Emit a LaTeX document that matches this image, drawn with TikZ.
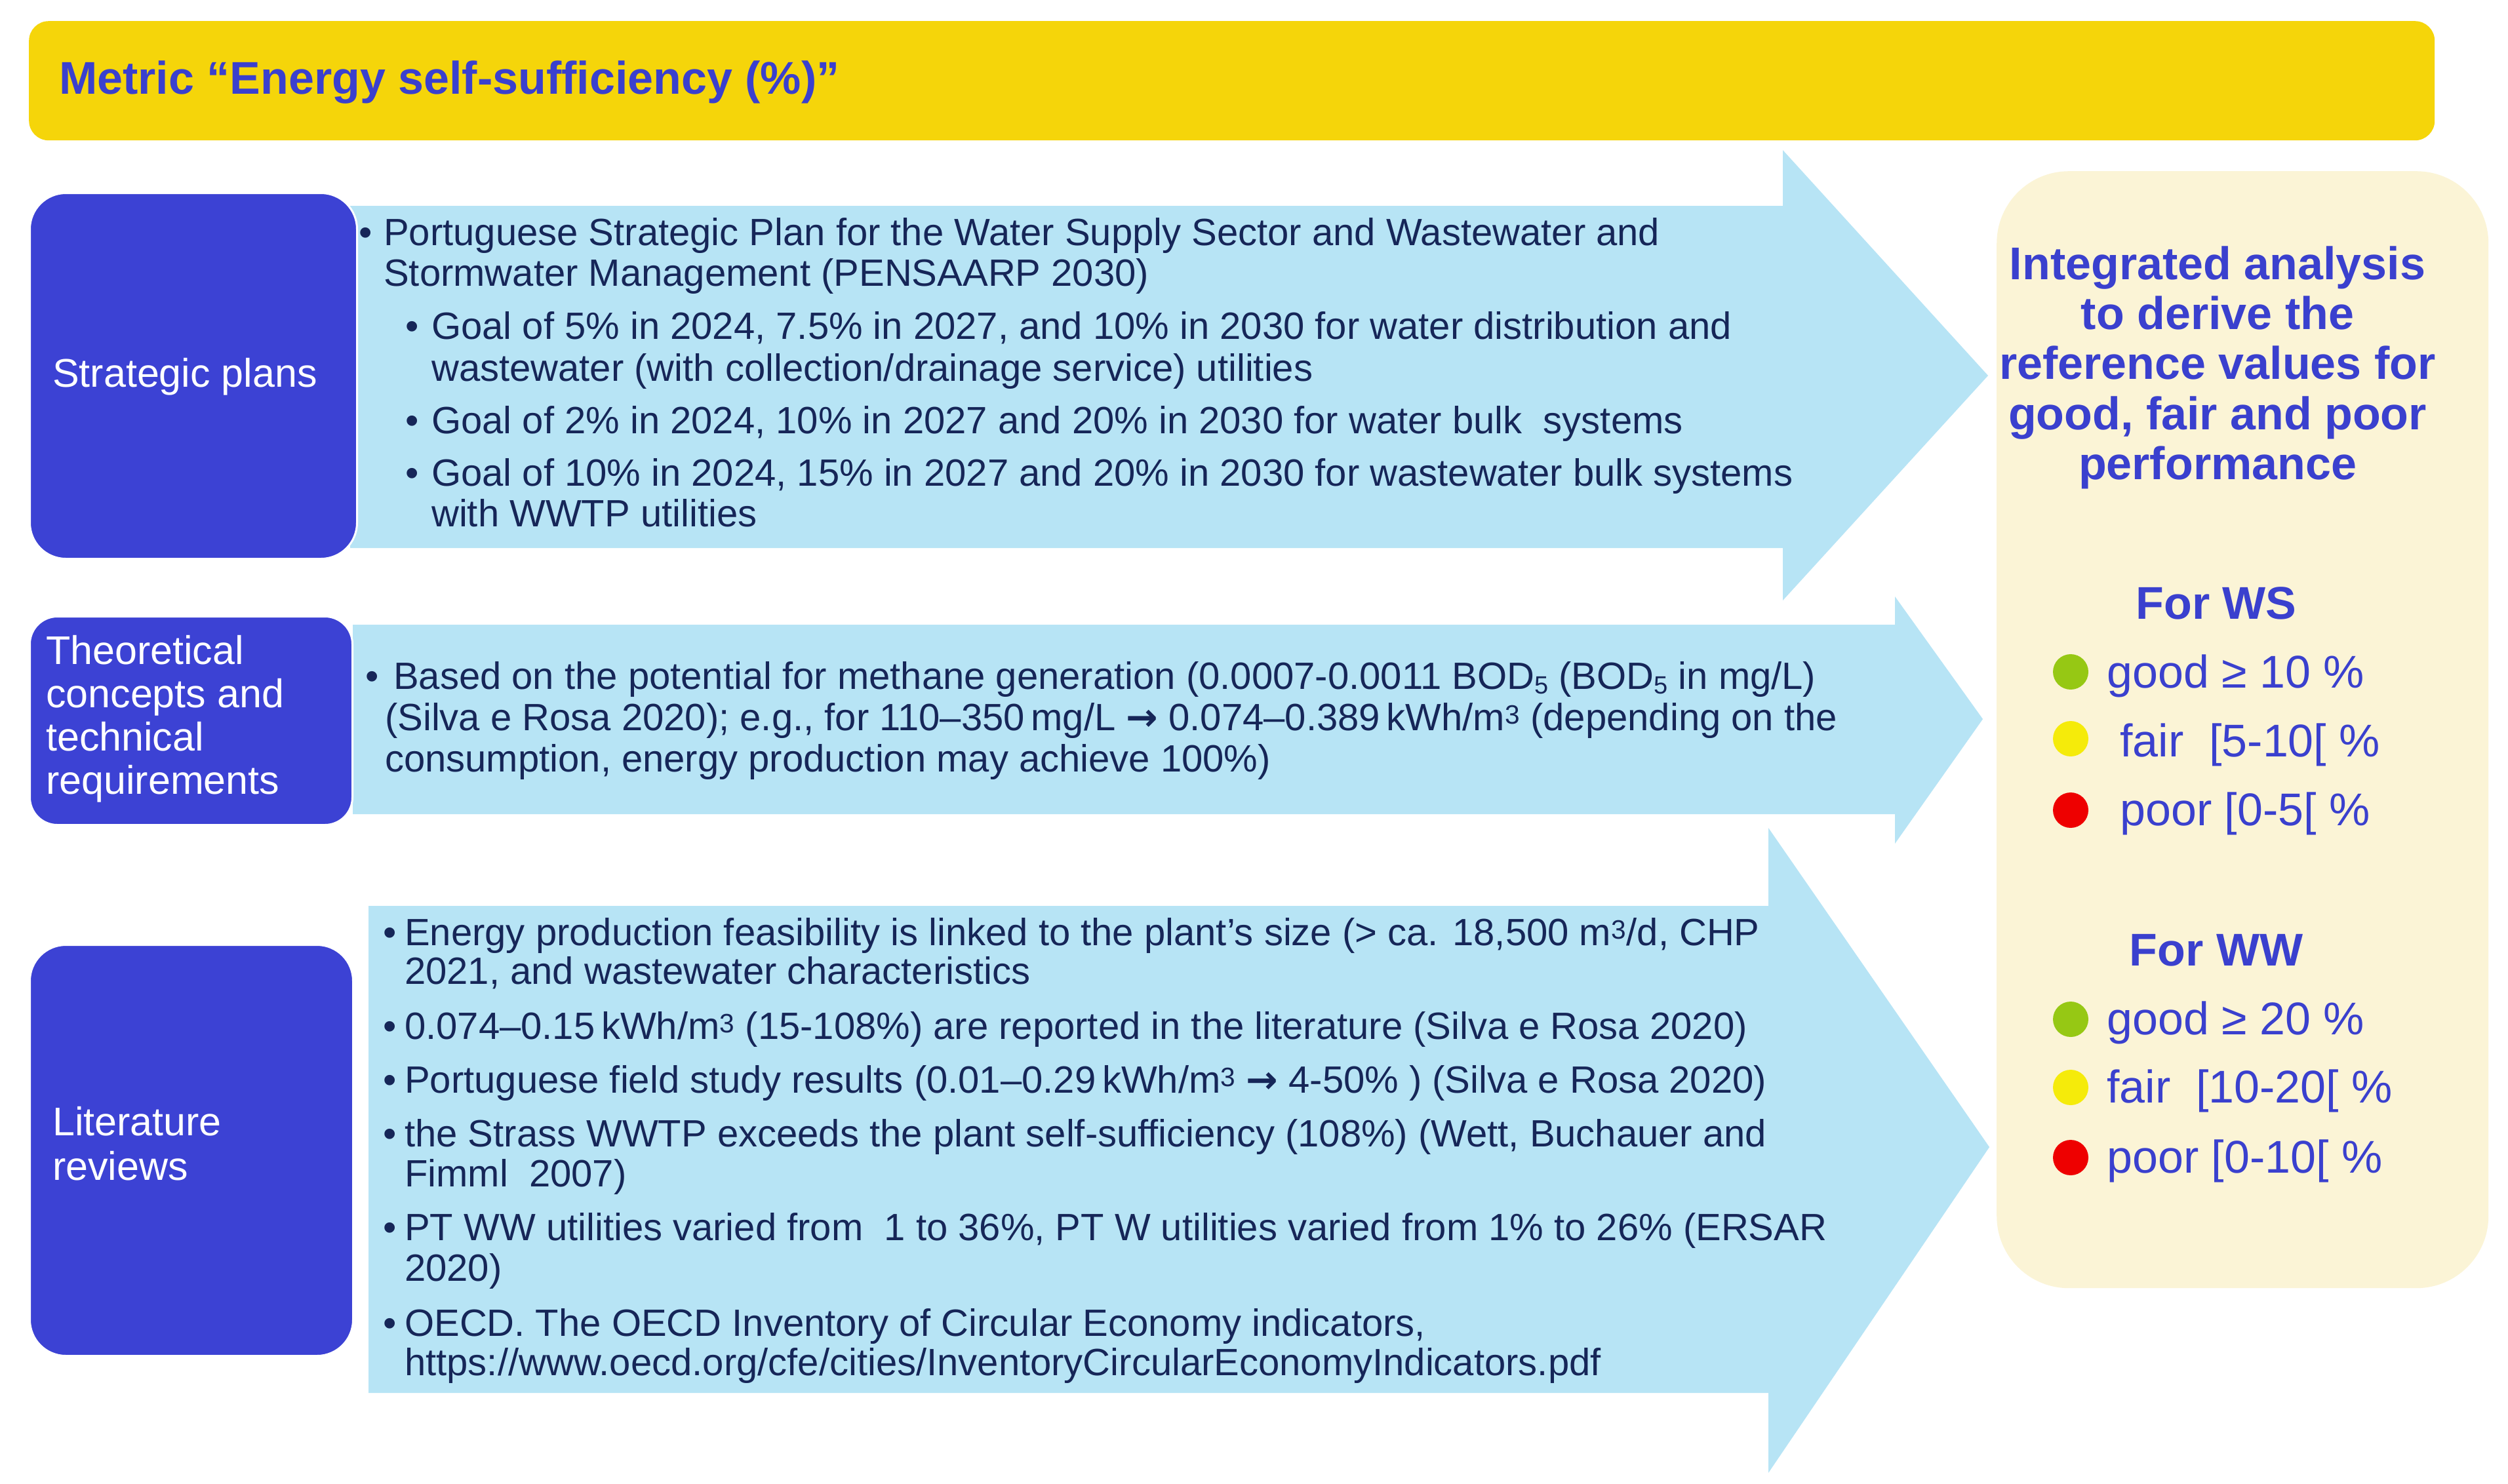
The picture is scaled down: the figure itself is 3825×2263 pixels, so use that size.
\documentclass[tikz,border=0pt]{standalone}
\usepackage{fontspec}
\setmainfont{Liberation Sans}
\newfontfamily\arrowfont{DejaVu Sans}
\definecolor{baryellow}{RGB}{245,213,10}
\definecolor{boxblue}{RGB}{60,66,212}
\definecolor{headblue}{RGB}{58,64,206}
\definecolor{arrowblue}{RGB}{183,228,245}
\definecolor{navy}{RGB}{22,38,88}
\definecolor{panelcream}{RGB}{251,244,214}
\definecolor{dotgreen}{RGB}{150,200,20}
\definecolor{dotyellow}{RGB}{245,235,10}
\definecolor{dotred}{RGB}{238,0,0}
\newcommand{\bigarr}{{\arrowfont\bfseries →}}
\newcommand{\subfive}{\raisebox{-7pt}{\fontsize{38}{38}\selectfont 5}}
\begin{document}
\begin{tikzpicture}[x=1pt,y=-1pt,
  lblbox/.style={fill=boxblue, draw=white, line width=3pt, anchor=north west, inner sep=0pt},
  lbl/.style={anchor=base west, inner sep=0pt, text=white, text height=0.72em, text depth=0.2em, font=\fontsize{61}{66}\selectfont},
  txt/.style={anchor=base west, inner sep=0pt, text=navy, text height=0.72em, text depth=0.2em, font=\fontsize{58}{60}\selectfont},
  hd/.style={anchor=base, inner sep=0pt, text=headblue, font=\fontsize{70}{76}\selectfont\bfseries},
  itm/.style={anchor=base west, inner sep=0pt, text=headblue, font=\fontsize{70}{76}\selectfont},
  sdot/.style={circle, inner sep=0pt, minimum size=54pt}
]
\useasboundingbox (0,0) rectangle (3825,2263);
\fill[white] (0,0) rectangle (3825,2263);

% title bar
\node[fill=baryellow, rounded corners=30pt, minimum width=3669pt, minimum height=182pt, anchor=north west, inner sep=0pt] (bar) at (44,32) {};
\node[anchor=base west, inner sep=0pt, text=headblue, font=\fontsize{70}{80}\selectfont\bfseries] (title) at (90,143) {Metric “Energy self-sufficiency (\%)”};

% big arrows
\fill[arrowblue] (534,314) -- (2719,314) -- (2719,229) -- (3032,573) -- (2719,916) -- (2719,836) -- (534,836) -- cycle;
\fill[arrowblue] (538,953) -- (2890,953) -- (2890,910) -- (3024,1097) -- (2890,1287) -- (2890,1242) -- (538,1242) -- cycle;
\fill[arrowblue] (562,1382) -- (2697,1382) -- (2697,1263) -- (3034,1750) -- (2697,2247) -- (2697,2125) -- (562,2125) -- cycle;

% label boxes
\node[lblbox, rounded corners=55pt, minimum width=499pt, minimum height=558pt] (sp) at (44,293) {};
\node[lbl] (spt) at (80,590) {Strategic plans};
\node[lblbox, rounded corners=42pt, minimum width=492pt, minimum height=318pt] (tc) at (44,939) {};
\node[lbl] (tc1) at (70,1013) {Theoretical};
\node[lbl] (tc2) at (70,1079) {concepts and};
\node[lbl] (tc3) at (70,1145) {technical};
\node[lbl] (tc4) at (70,1211) {requirements};
\node[lblbox, rounded corners=55pt, minimum width=493pt, minimum height=627pt] (lr) at (44,1440) {};
\node[lbl] (lr1) at (80,1732) {Literature};
\node[lbl] (lr2) at (80,1800) {reviews};

% arrow 1 text
\node[txt] (a1b1) at (547,374) {•};
\node[txt] (a1l1) at (585,374) {Portuguese Strategic Plan for the Water Supply Sector and Wastewater and};
\node[txt] (a1l2) at (585,436) {Stormwater Management (PENSAARP 2030)};
\node[txt] (a1b2) at (618,517) {•};
\node[txt] (a1l3) at (658,517) {Goal of 5\% in 2024, 7.5\% in 2027, and 10\% in 2030 for water distribution and};
\node[txt] (a1l4) at (658,581) {wastewater (with collection/drainage service) utilities};
\node[txt] (a1b3) at (618,661) {•};
\node[txt] (a1l5) at (658,661) {Goal of 2\% in 2024, 10\% in 2027 and 20\% in 2030 for water bulk\ \ systems};
\node[txt] (a1b4) at (618,741) {•};
\node[txt] (a1l6) at (658,741) {Goal of 10\% in 2024, 15\% in 2027 and 20\% in 2030 for wastewater bulk systems};
\node[txt] (a1l7) at (658,803) {with WWTP utilities};

% arrow 2 text
\node[txt] (a2b1) at (557,1051) {•};
\node[txt] (a2l1) at (600,1051) {Based on the potential for methane generation (0.0007-0.0011 BOD\subfive{} (BOD\subfive{} in mg/L)};
\node[txt] (a2l2) at (587,1114) {(Silva e Rosa 2020); e.g., for 110–350\,mg/L \bigarr{} 0.074–0.389\,kWh/m\textsuperscript{3} (depending on the};
\node[txt] (a2l3) at (587,1177) {consumption, energy production may achieve 100\%)};

% arrow 3 text
\node[txt] (a3b1) at (584,1442) {•};
\node[txt] (a3l1) at (617,1442) {Energy production feasibility is linked to the plant’s size (> ca. 18,500 m\textsuperscript{3}/d, CHP};
\node[txt] (a3l2) at (617,1501) {2021, and wastewater characteristics};
\node[txt] (a3b2) at (584,1585) {•};
\node[txt] (a3l3) at (617,1585) {0.074–0.15\,kWh/m\textsuperscript{3} (15-108\%) are reported in the literature (Silva e Rosa 2020)};
\node[txt] (a3b3) at (584,1667) {•};
\node[txt] (a3l4) at (617,1667) {Portuguese field study results (0.01–0.29\,kWh/m\textsuperscript{3} \bigarr{} 4-50\% ) (Silva e Rosa 2020)};
\node[txt] (a3b4) at (584,1749) {•};
\node[txt] (a3l5) at (617,1749) {the Strass WWTP exceeds the plant self-sufficiency (108\%) (Wett, Buchauer and};
\node[txt] (a3l6) at (617,1810) {Fimml\ \ 2007)};
\node[txt] (a3b5) at (584,1892) {•};
\node[txt] (a3l7) at (617,1892) {PT WW utilities varied from\ \ 1 to 36\%, PT W utilities varied from 1\% to 26\% (ERSAR};
\node[txt] (a3l8) at (617,1954) {2020)};
\node[txt] (a3b6) at (584,2038) {•};
\node[txt] (a3l9) at (617,2038) {OECD. The OECD Inventory of Circular Economy indicators,};
\node[txt] (a3l10) at (617,2098) {https://www.oecd.org/cfe/cities/InventoryCircularEconomyIndicators.pdf};

% right panel
\node[fill=panelcream, rounded corners=110pt, minimum width=750pt, minimum height=1704pt, anchor=north west, inner sep=0pt] (panel) at (3045,261) {};
\node[hd] (p1) at (3382,426) {Integrated analysis};
\node[hd] (p2) at (3382,502) {to derive the};
\node[hd] (p3) at (3382,578) {reference values for};
\node[hd] (p4) at (3382,655) {good, fair and poor};
\node[hd] (p5) at (3382,731) {performance};
\node[hd] (ws) at (3380,944) {For WS};
\node[sdot, fill=dotgreen] (wsg) at (3158,1025) {};
\node[itm] (wsgt) at (3213,1049) {good ≥ 10 \%};
\node[sdot, fill=dotyellow] (wsf) at (3158,1127) {};
\node[itm] (wsft) at (3233,1154) {fair\ \ [5-10[ \%};
\node[sdot, fill=dotred] (wsp) at (3158,1236) {};
\node[itm] (wspt) at (3233,1259) {poor [0-5[ \%};
\node[hd] (ww) at (3380,1473) {For WW};
\node[sdot, fill=dotgreen] (wwg) at (3158,1555) {};
\node[itm] (wwgt) at (3213,1578) {good ≥ 20 \%};
\node[sdot, fill=dotyellow] (wwf) at (3158,1659) {};
\node[itm] (wwft) at (3213,1682) {fair\ \ [10-20[ \%};
\node[sdot, fill=dotred] (wwp) at (3158,1766) {};
\node[itm] (wwpt) at (3213,1789) {poor [0-10[ \%};
\end{tikzpicture}
\end{document}
